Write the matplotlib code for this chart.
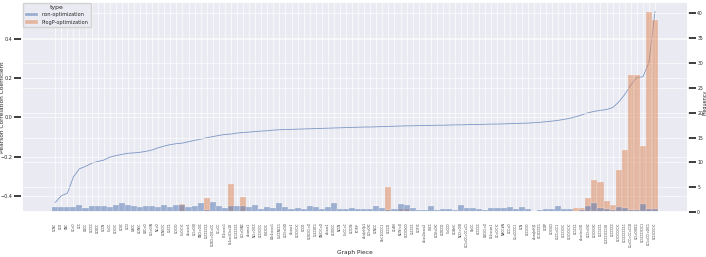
import matplotlib
matplotlib.use('Agg')
import matplotlib.pyplot as plt
import seaborn as sns
import numpy as np
from matplotlib.patches import Patch

pieces = [
    'CCNC', 'CCO', 'CNC', 'CC=O', 'CCC', 'COCC', 'CCCCC', 'CCOCC', 'CCCN', 'C=CC',
    'CC(C)C', 'CCSC', 'CCCl', 'C#CC', 'CC(N)C', 'COC=O', 'CC(=O)N', 'NC=O', 'CCN(C)C', 'C1CC1',
    'CC(C)O', 'C=C(C)C', 'c1ccccc1', 'CC(=O)O', 'CNC(=O)C', 'C1CCCCC1', 'CCOC(=O)C=CC', 'CC=CC', 'Oc1ccccc1', 'Cc1ccc(C)cc1O',
    'CC1CCCC1', 'CC(=O)NC', 'c1ccncc1', 'NC(=O)CC', 'CCC(C)CC', 'CSC(C)C', 'COc1ccccc1', 'C1CCNCC1', 'CCC(=O)O', 'c1ccsc1',
    'CC(C)(C)C', 'OCCO', 'CCOC(C)=O', 'C1CCOC1', 'CN(C)C=O', 'c1ccoc1', 'CC(O)CC', 'NCCN', 'C=CC=C', 'CC(C)N',
    'FC(F)F', 'c1cc[nH]c1', 'CC(=O)C', 'CCNCC', 'O=C1CCCC1', 'CCCCO', 'CC#N', 'NC(N)=O', 'OCC(O)CO', 'C1CCC1',
    'CC(F)C', 'c1ccc2ccccc2', 'CSCC', 'CCS(=O)C', 'CCOCCO', 'C=CCO', 'CC(Br)C', 'NCC(=O)O', 'CC1=CC=CC=C1', 'O=CC',
    'CCCCCC', 'COC(C)=O', 'Cc1ccccn1', 'CC=C(C)C', 'N#CC#N', 'CCC=O', 'C1=CCCC1', 'CCN', 'CCC(C)O', 'c1cnc[nH]1',
    'OC1CCCC1', 'CCOP', 'CC(Cl)Cl', 'C1CC=CC1', 'CCCC(C)C', 'CC(C)C(C)C', 'CC1CC1', 'c1ccc(cc1)O', 'CCC(=O)C', 'CC(C)(O)C',
    'CCC1CC1', 'C1CCC(CC1)O', 'CCCCCCC', 'CC(C)CC(C)C', 'CC1CCCCC1C', 'C1=CC=CC=C1O', 'CC(=O)OCC', 'CC1CCC(C)C1', 'CC1=CC(=O)C1', 'CCC(C)(C)C',
]

freq_non_opt = [
    0.93, 0.93, 0.93, 1.07, 1.33, 0.8, 1.27, 1.2, 1.13, 0.93,
    1.33, 1.8, 1.4, 1.13, 1.07, 1.13, 1.2, 1.07, 1.4, 0.93,
    1.33, 1.33, 1.07, 1.27, 1.87, 0.4, 2.0, 1.2, 0.8, 1.2,
    1.2, 1.2, 1.07, 1.4, 0.53, 0.93, 0.87, 1.87, 1.0, 0.6,
    0.8, 0.53, 1.27, 0.93, 0.6, 1.07, 1.87, 0.67, 0.53, 0.8,
    0.53, 0.6, 0.53, 1.27, 0.87, 0.4, 0.67, 1.6, 1.33, 0.87,
    0.47, 0.47, 1.2, 0.33, 0.67, 0.53, 0.4, 1.33, 0.73, 0.8,
    0.6, 0.47, 0.87, 0.87, 0.8, 1.0, 0.67, 0.93, 0.67, 0.0,
    0.47, 0.6, 0.6, 1.2, 0.67, 0.53, 0.1, 0.4, 1.2, 1.87,
    0.8, 0.6, 0.4, 1.07, 0.8, 0.4, 0.4, 1.53, 0.6, 0.6,
]

freq_plogp_opt = [
    0, 0, 0, 0, 0, 0, 0, 0, 0, 0,
    0, 0, 0, 0, 0, 0, 0, 0, 0, 0,
    0, 1.53, 0, 0.3, 0, 2.73, 0, 0, 0, 5.67,
    0, 2.93, 0, 0, 0, 0, 0, 0, 0, 0,
    0, 0, 0, 0, 0, 0, 0, 0, 0, 0,
    0, 0, 0, 0, 0, 5.07, 0, 0.6, 0.6, 0,
    0, 0, 0, 0, 0, 0, 0, 0, 0, 0,
    0, 0, 0, 0.2, 0, 0, 0, 0, 0, 0,
    0, 0, 0, 0, 0, 0, 0.73, 0.73, 2.73, 6.53,
    6.1, 2.25, 1.4, 8.53, 12.53, 27.5, 27.5, 13.2, 40.3, 38.6,
]

pearson = [
    -0.434, -0.400, -0.387, -0.304, -0.262, -0.250, -0.234, -0.225, -0.218, -0.203,
    -0.195, -0.189, -0.183, -0.181, -0.178, -0.173, -0.166, -0.155, -0.146, -0.139,
    -0.134, -0.131, -0.124, -0.117, -0.111, -0.104, -0.098, -0.092, -0.087, -0.085,
    -0.080, -0.077, -0.075, -0.072, -0.070, -0.068, -0.065, -0.063, -0.062, -0.061,
    -0.060, -0.059, -0.058, -0.057, -0.056, -0.055, -0.054, -0.053, -0.052, -0.051,
    -0.050, -0.049, -0.049, -0.048, -0.047, -0.046, -0.045, -0.044, -0.043, -0.043,
    -0.042, -0.041, -0.041, -0.040, -0.040, -0.039, -0.038, -0.038, -0.037, -0.036,
    -0.036, -0.035, -0.034, -0.034, -0.033, -0.032, -0.031, -0.030, -0.029, -0.027,
    -0.025, -0.022, -0.019, -0.015, -0.010, -0.004, 0.004, 0.014, 0.024, 0.031,
    0.036, 0.040, 0.050, 0.078, 0.117, 0.165, 0.204, 0.207, 0.280, 0.541,
]

types = ['non-optimization', 'PlogP-optimization']
colors = ['#4c72b0', '#dd8452']

sns.set_theme(style='darkgrid')
plt.rcParams['font.family'] = ['DejaVu Sans']
plt.rcParams['grid.linewidth'] = 0.45

fig = plt.figure(figsize=(7.06, 2.57), dpi=100)
ax = fig.add_axes([0.031, 0.175, 0.944, 0.818])
x = np.arange(len(pieces))

ax.plot(x, pearson, color=colors[0], lw=0.6, alpha=0.7)
ax.set_ylabel('Pearson Correlation Coefficient', fontsize=4.2)
ax.yaxis.set_label_coords(-0.0255, 0.5)
ax.set_xlabel('Graph Piece', fontsize=4.2)
ax.xaxis.set_label_coords(0.5, -0.18)
ax.set_xticks(x)
ax.set_xticklabels(pieces, rotation=90, fontsize=2.1)
ax.set_yticks([-0.4, -0.2, 0.0, 0.2, 0.4])
ax.tick_params(axis='y', labelsize=3.5, pad=1)
ax.tick_params(axis='x', pad=1.5)

ax2 = ax.twinx()
ax2.bar(x, freq_plogp_opt, width=1, color=colors[1], alpha=0.5, edgecolor='white', linewidth=0.3)
ax2.bar(x, freq_non_opt, width=1, color=colors[0], alpha=0.5, edgecolor='white', linewidth=0.3)
ax2.set_ylabel('Frequency', fontsize=3.5)
ax2.yaxis.set_label_coords(1.021, 0.52)
ax2.set_yticks(range(0, 41, 5))
ax2.tick_params(axis='y', labelsize=3.3, pad=0.4)

handles = [Patch(facecolor=c, alpha=0.5, edgecolor='white', linewidth=0.3) for c in colors]
leg = ax2.legend(handles, types, title='type', loc='upper left', fontsize=3.6,
                 title_fontsize=4.4, borderaxespad=0.2, handlelength=2.6, handleheight=0.8)

fig.savefig('out.png', dpi=100)
